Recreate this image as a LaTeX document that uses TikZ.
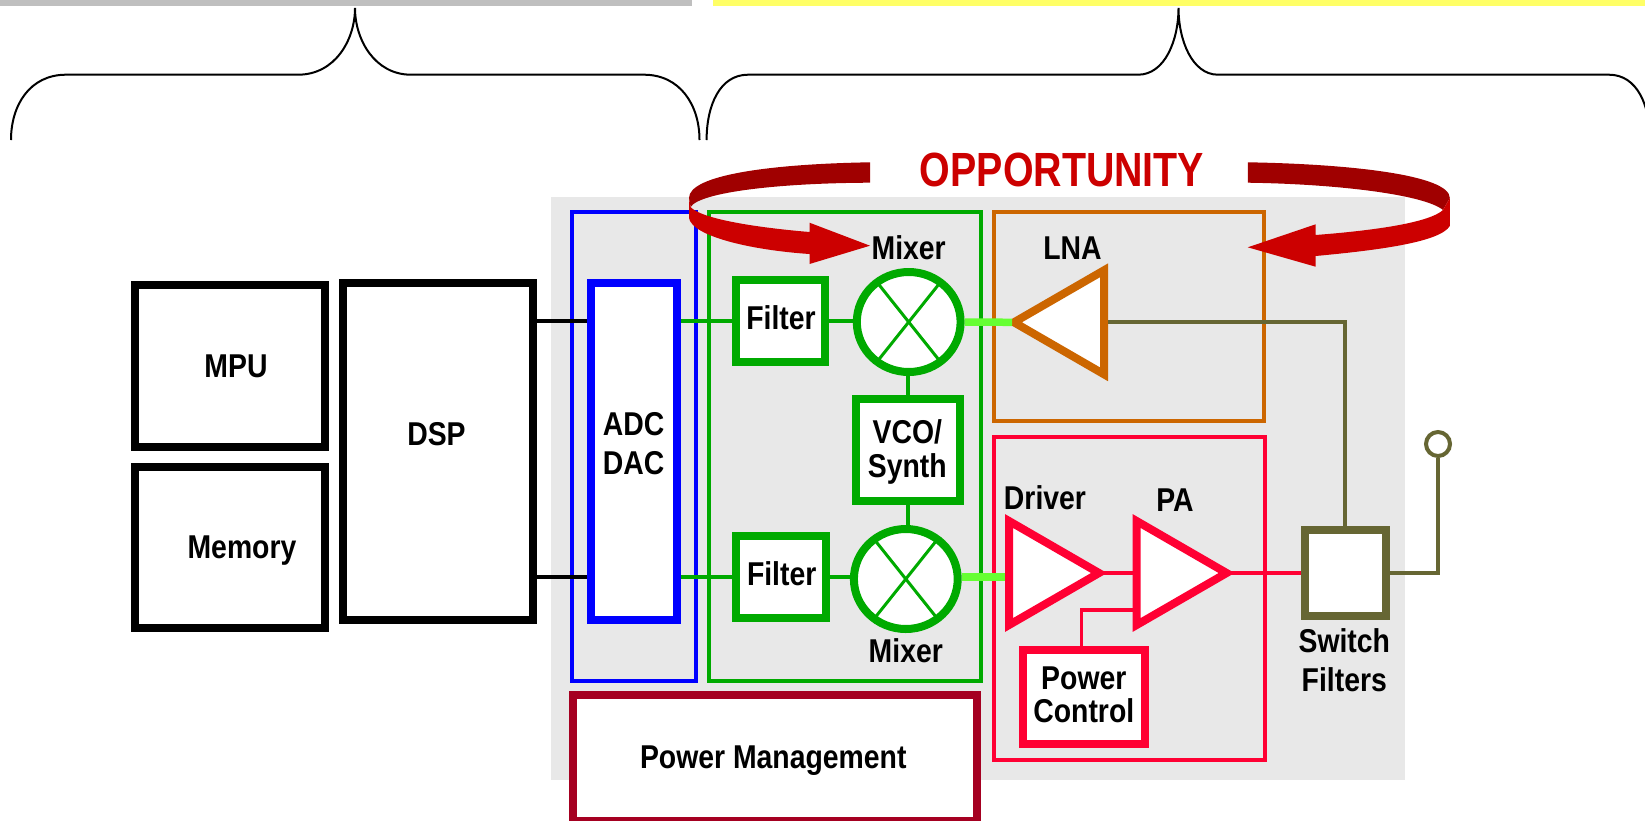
\documentclass[tikz,border=0pt]{standalone}
\usepackage{fontspec}
\usetikzlibrary{shapes.geometric}
\newfontfamily\labfont[FakeStretch=0.86]{Liberation Sans}
\newfontfamily\oppfont[FakeStretch=0.82]{Liberation Sans}
\newcommand\lf[1]{\labfont\bfseries\fontsize{33}{#1}\selectfont}
\definecolor{greybar}{HTML}{BFBFBF}
\definecolor{yellowbar}{rgb}{1,1,0.4}
\definecolor{panel}{HTML}{E8E8E8}
\definecolor{bl}{HTML}{0000FF}
\definecolor{gr}{HTML}{00AA00}
\definecolor{lg}{HTML}{66FF33}
\definecolor{org}{HTML}{CC6600}
\definecolor{rdl}{HTML}{FF0033}
\definecolor{mar}{HTML}{A50021}
\definecolor{olv}{HTML}{666633}
\definecolor{dk}{HTML}{A00000}
\definecolor{rd}{HTML}{CC0000}
\tikzset{
  box/.style={draw=#1,fill=white,line width=8pt,inner sep=0pt,rectangle},
  thin/.style={draw=#1,line width=4pt,inner sep=0pt,rectangle},
  mix/.style={draw=gr,fill=white,line width=8pt,inner sep=0pt,ellipse,minimum width=103.8pt,minimum height=100pt},
  amp/.style={draw=#1,fill=white,line width=8pt,inner sep=0pt,outer sep=0pt,isosceles triangle,isosceles triangle stretches,anchor=apex,minimum width=104pt,minimum height=90pt},
  lbl/.style={inner sep=0pt,anchor=base,font=\lf{34},align=center},
  brace/.style={line width=2pt,draw=black},
  wire/.style={line width=4pt,draw=#1}
}
\begin{document}
\begin{tikzpicture}[x=1pt,y=-1pt]
\useasboundingbox (0,0) rectangle (1645,820);
\clip (0,0) rectangle (1645,820);
% bars and panel
\fill[greybar] (0,0) rectangle (692,6);
\fill[yellowbar] (713,0) rectangle (1645,6);
\fill[panel] (551,197) rectangle (1405,780);
% braces
\draw[brace] (11,140) .. controls (11,105) and (30,74.7) .. (66,74.7) -- (298,74.7) .. controls (335,74.7) and (355,40) .. (355,8) .. controls (355,40) and (375,74.7) .. (411,74.7) -- (644,74.7) .. controls (680,74.7) and (699.5,105) .. (699.5,140);
\draw[brace] (706.6,140) .. controls (706.6,105) and (720,74.7) .. (748,74.7) -- (1138,74.7) .. controls (1165,74.7) and (1178.5,40) .. (1178.5,8) .. controls (1178.5,40) and (1192,74.7) .. (1218,74.7) -- (1609,74.7) .. controls (1637,74.7) and (1650,105) .. (1650,140);
% thin frames
\node[thin=bl,minimum width=124pt,minimum height=469pt] (adcframe) at (634,446.5) {};
\node[thin=gr,minimum width=272.5pt,minimum height=469pt] (mixframe) at (844.75,446.5) {};
\node[thin=org,minimum width=270.5pt,minimum height=209pt] (rxframe) at (1128.75,316.5) {};
\node[thin=rdl,minimum width=270.5pt,minimum height=323pt] (txframe) at (1129.25,598.5) {};
% boxes
\node[box=black,minimum width=189.2pt,minimum height=161.4pt] (mpu) at (229.9,366) {};
\node[box=black,minimum width=189.2pt,minimum height=161.3pt] (mem) at (229.9,547.35) {};
\node[box=black,minimum width=189.2pt,minimum height=337.3pt] (dsp) at (437.9,451.35) {};
\node[box=bl,minimum width=86pt,minimum height=337.3pt] (adc) at (634,451.35) {};
\node[box=mar,minimum width=404pt,minimum height=126.6pt] (pm) at (775,758) {};
\node[box=gr,minimum width=89pt,minimum height=81.7pt] (filt1) at (780.9,320.85) {};
\node[box=gr,minimum width=90pt,minimum height=81.7pt] (filt2) at (781,577.15) {};
\node[box=gr,minimum width=104pt,minimum height=102.5pt] (vco) at (908,449.75) {};
\node[mix] (mix1) at (908.7,322) {};
\node[mix] (mix2) at (905.8,579) {};
\node[box=olv,minimum width=80.8pt,minimum height=86pt] (sw) at (1345.4,572.5) {};
\node[box=rdl,minimum width=121.7pt,minimum height=94.3pt] (pc) at (1084.15,696.65) {};
\node[draw=olv,fill=white,line width=4pt,circle,inner sep=0pt,minimum size=24pt] (ant) at (1438,444) {};
% amplifiers
\node[amp=org,shape border rotate=180] (lna) at (1014,322.3) {};
\node[amp=rdl] (drv) at (1099,573) {};
\node[amp=rdl] (pa) at (1226.6,573) {};
% mixer crosses
\draw[gr,line width=3pt] ([shift={(-29.5pt,37pt)}]mix1.center) -- ([shift={(29.5pt,-37pt)}]mix1.center);
\draw[gr,line width=3pt] ([shift={(-29.5pt,-37pt)}]mix1.center) -- ([shift={(29.5pt,37pt)}]mix1.center);
\draw[gr,line width=3pt] ([shift={(-29.5pt,37pt)}]mix2.center) -- ([shift={(29.5pt,-37pt)}]mix2.center);
\draw[gr,line width=3pt] ([shift={(-29.5pt,-37pt)}]mix2.center) -- ([shift={(29.5pt,37pt)}]mix2.center);
% connectors
\draw[wire=black] (dsp.east |- filt1.west) -- (adc.west |- filt1.west);
\draw[wire=black] (dsp.east |- filt2.west) -- (adc.west |- filt2.west);
\draw[wire=gr] (adc.east |- filt1.west) -- (filt1.west);
\draw[wire=gr] (adc.east |- filt2.west) -- (filt2.west);
\draw[wire=gr] (filt1.east) -- (mix1.west |- filt1.east);
\draw[wire=gr] (filt2.east) -- (mix2.west |- filt2.east);
\draw[wire=gr] (vco.north) -- (vco.north |- mix1.south);
\draw[wire=gr] (vco.south) -- (vco.south |- mix2.north);
\draw[lg,line width=7.5pt] (mix1.east) -- ([xshift=-2pt]lna.apex);
\draw[lg,line width=7.5pt] (mix2.east |- filt2.east) -- ([xshift=-4pt]drv.lower side |- filt2.east);
\draw[wire=olv] ([xshift=4pt]lna.lower side) -| (sw.north);
\draw[wire=olv] (sw.east) -| (ant.south);
\draw[wire=rdl] (drv.apex) -- ([xshift=-4pt]pa.lower side);
\draw[wire=rdl] (pa.apex) -- (sw.west |- pa.apex);
\draw[rdl,line width=3.5pt] ([xshift=-2.5pt]pc.north) |- ([shift={(-4pt,-37pt)}]pa.lower side);
% opportunity ribbons
\fill[dk] (870,162.3) .. controls (770,164) and (689,175) .. (689,198) -- (690.6,207) .. controls (700,192) and (780,183) .. (870,182.7) -- cycle;
\fill[rd] (689,198) -- (689,218) .. controls (692,236) and (750,250) .. (809.5,254) -- (809.5,264) -- (870,245.7) -- (809.5,222.7) -- (809.5,232) .. controls (750,227) and (700,218) .. (690.6,207) -- cycle;
\fill[dk] (1247.8,162.3) .. controls (1350,164) and (1449.8,175) .. (1449.8,198) -- (1443,210) .. controls (1425,195) and (1340,184) .. (1247.8,182.7) -- cycle;
\fill[rd] (1449.8,198) -- (1449.8,226) .. controls (1440,242) and (1380,250) .. (1315.6,256) -- (1315.6,266.7) -- (1247.8,247.3) -- (1315.6,224.3) -- (1315.6,235) .. controls (1380,230) and (1430,222) .. (1443,210) -- cycle;
% labels
\node[inner sep=0pt,anchor=base,text=rd,font=\oppfont\bfseries\fontsize{48}{50}\selectfont] (opp) at (1062,186) {OPPORTUNITY};
\node[lbl] (tmpu) at (236,377.5) {MPU};
\node[lbl] (tmem) at (242,558) {Memory};
\node[lbl] (tdsp) at (436.5,445) {DSP};
\node[lbl,font=\lf{38.3}] (tadc) at (633.7,474) {ADC\\DAC};
\node[lbl] (tmix1) at (908.7,259) {Mixer};
\node[lbl] (tlna) at (1072.5,259) {LNA};
\node[lbl] (tf1) at (781,329) {Filter};
\node[lbl] (tf2) at (781.7,585.7) {Filter};
\node[lbl] (tmix2) at (905.8,662.3) {Mixer};
\node[lbl] (tpm) at (773.3,768.3) {Power Management};
\node[lbl,font=\lf{34}] (tvco) at (907.3,477.3) {VCO/\\Synth};
\node[lbl] (tdrv) at (1045,509.3) {Driver};
\node[lbl] (tpa) at (1175,511) {PA};
\node[lbl,font=\lf{38.7}] (tsw) at (1344.3,691) {Switch\\Filters};
\node[lbl,font=\lf{33.3}] (tpc) at (1083.8,722.3) {Power\\Control};
\end{tikzpicture}
\end{document}
